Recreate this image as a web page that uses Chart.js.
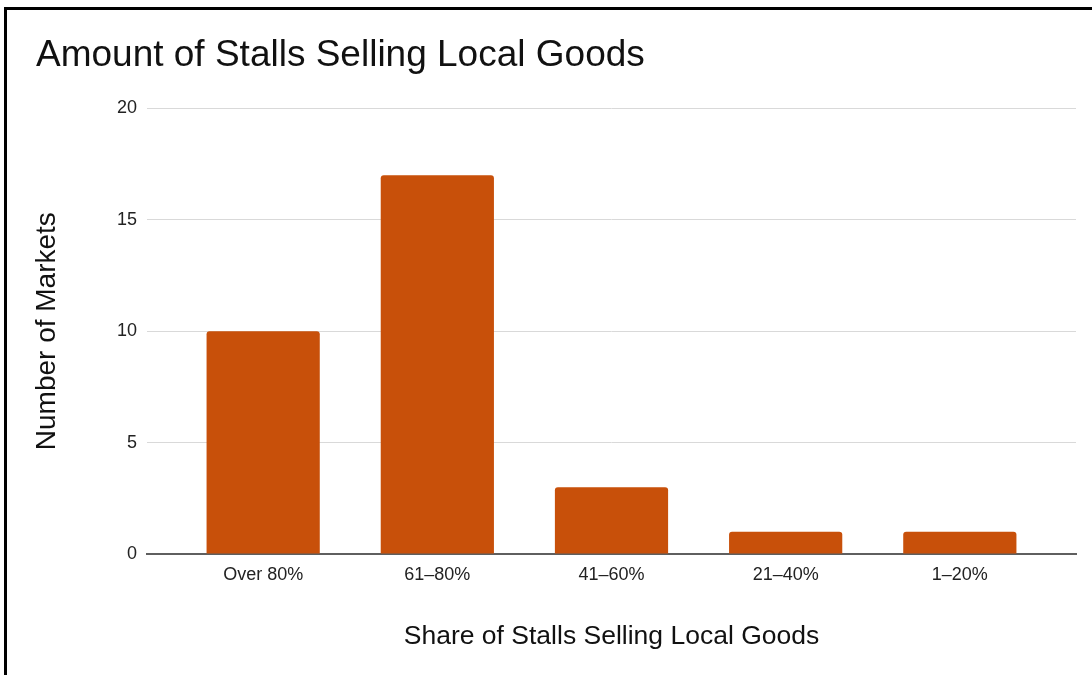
<!DOCTYPE html>
<html>
<head>
<meta charset="utf-8">
<script src="https://cdn.jsdelivr.net/npm/chart.js@4.4.0/dist/chart.umd.min.js"></script>
<style>
  html, body { margin: 0; padding: 0; background: #fff; overflow: hidden; }
  #frame {
    position: absolute;
    left: 4px;
    top: 7px;
    width: 1085px;
    height: 665px;
    border-top: 3px solid #000;
    border-left: 3px solid #000;
  }
</style>
</head>
<body>
<div id="frame"><canvas id="stalls-chart"></canvas></div>
<script>
const categories = ['Over 80%', '61–80%', '41–60%', '21–40%', '1–20%'];
const marketCounts = [10, 17, 3, 1, 1];
const yTickValues = [0, 5, 10, 15, 20];

const FONT = "'Liberation Sans', Arial, Helvetica, sans-serif";
const BAR_COLOR = '#c8500a';

// bars sit on a linear axis so the baseline can run past the outer bars
const barPoints = categories.map((c, i) => ({ x: i, y: marketCounts[i] }));

const ctx = document.getElementById('stalls-chart').getContext('2d');
new Chart(ctx, {
  type: 'bar',
  data: {
    datasets: [
      {
        label: 'Number of Markets',
        data: barPoints,
        backgroundColor: BAR_COLOR,
        borderRadius: 3,
        barPercentage: 0.65,
        categoryPercentage: 1,
      },
    ],
  },
  options: {
    responsive: true,
    maintainAspectRatio: false,
    animation: false,
    layout: { padding: { left: 29, right: 16, top: 0, bottom: 0 } },
    plugins: {
      legend: { display: false },
      tooltip: { enabled: false },
      title: {
        display: true,
        text: 'Amount of Stalls Selling Local Goods',
        align: 'start',
        color: '#111',
        font: { family: FONT, size: 37, weight: 'normal' },
        padding: { top: 24, bottom: 30 },
      },
    },
    scales: {
      x: {
        type: 'linear',
        offset: false,
        min: -0.667,
        max: 4.667,
        afterBuildTicks: scale => {
          scale.ticks = categories.map((c, i) => ({ value: i }));
        },
        afterFit: scale => {
          scale.height = 121;
        },
        grid: { display: false, drawTicks: false },
        border: { display: true, color: '#5f5f5f', width: 2 },
        ticks: {
          padding: 10,
          color: '#222',
          font: { family: FONT, size: 18 },
          callback: v => categories[v],
        },
        title: {
          display: true,
          text: 'Share of Stalls Selling Local Goods',
          color: '#111',
          font: { family: FONT, size: 26.5 },
          padding: { top: 0, bottom: 22 },
        },
      },
      y: {
        min: 0,
        max: 20,
        afterBuildTicks: scale => {
          scale.ticks = yTickValues.map(v => ({ value: v }));
        },
        afterFit: scale => {
          scale.width = 111;
        },
        grid: { color: '#d9d9d9', lineWidth: 1, drawTicks: false },
        border: { display: false },
        ticks: {
          padding: 10,
          color: '#222',
          font: { family: FONT, size: 18 },
        },
        title: {
          display: true,
          text: 'Number of Markets',
          color: '#111',
          font: { family: FONT, size: 28 },
          padding: { top: -6, bottom: 0 },
        },
      },
    },
  },
});
</script>
</body>
</html>
